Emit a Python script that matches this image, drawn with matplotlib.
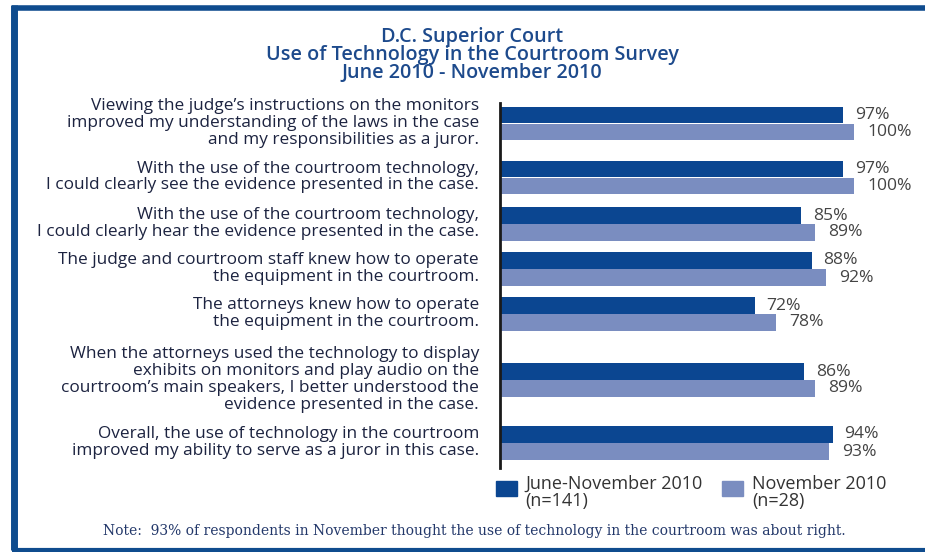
import matplotlib
matplotlib.use('Agg')
import matplotlib.pyplot as plt
from matplotlib.patches import Rectangle

# data
questions = [
    "Viewing the judge\u2019s instructions on the monitors\nimproved my understanding of the laws in the case\nand my responsibilities as a juror.",
    "With the use of the courtroom technology,\nI could clearly see the evidence presented in the case.",
    "With the use of the courtroom technology,\nI could clearly hear the evidence presented in the case.",
    "The judge and courtroom staff knew how to operate\nthe equipment in the courtroom.",
    "The attorneys knew how to operate\nthe equipment in the courtroom.",
    "When the attorneys used the technology to display\nexhibits on monitors and play audio on the\ncourtroom\u2019s main speakers, I better understood the\nevidence presented in the case.",
    "Overall, the use of technology in the courtroom\nimproved my ability to serve as a juror in this case.",
]
june_nov = [97, 97, 85, 88, 72, 86, 94]
nov = [100, 100, 89, 92, 78, 89, 93]
series_names = ["June-November 2010\n(n=141)", "November 2010\n(n=28)"]
title_lines = "D.C. Superior Court\nUse of Technology in the Courtroom Survey\nJune 2010 - November 2010"
note = "Note:  93% of respondents in November thought the use of technology in the courtroom was about right."

# layout (pixel rows of each question group)
group_y = [123.5, 177.5, 224, 269, 314, 380, 443]
bar_h = 16.2
dark = '#0b4691'
light = '#7a8dc0'
frame = '#0f4c8e'
W, H = 925, 552

plt.rcParams['font.family'] = ['Open Sans', 'DejaVu Sans']
fig = plt.figure(figsize=(W / 100, H / 100), dpi=100)

# overlay axes in pixel coordinates for frame and free text
bg = fig.add_axes([0, 0, 1, 1])
bg.set_xlim(0, W)
bg.set_ylim(H, 0)
bg.axis('off')
bg.plot([14, 14], [5, 550], color=frame, lw=5, solid_capstyle='butt')
bg.plot([11.5, W], [7.5, 7.5], color=frame, lw=4, solid_capstyle='butt')
bg.plot([11.5, W], [549.5, 549.5], color=frame, lw=3, solid_capstyle='butt')

bg.text(472, 55, title_lines, ha='center', va='center', fontsize=14.2,
        color='#1d4a8c', linespacing=0.86, fontweight='semibold')

# bar axes: x=0 at pixel 500, 100% at pixel 854
left_px, right_px, top_px, bot_px = 500, W, 100, 470
ax = fig.add_axes([left_px / W, 1 - bot_px / H, (right_px - left_px) / W, (bot_px - top_px) / H])
ax.set_xlim(0, (right_px - left_px) / 3.54)
ax.set_ylim(bot_px, top_px)
ax.patch.set_alpha(0)
for s in ['top', 'right', 'bottom', 'left']:
    ax.spines[s].set_visible(False)
ax.set_xticks([])
ax.set_yticks([])

yd = [g - bar_h / 2 - 0.4 for g in group_y]
yl = [g + bar_h / 2 + 0.4 for g in group_y]
ax.barh(yd, june_nov, height=bar_h, color=dark)
ax.barh(yl, nov, height=bar_h, color=light)
for y, v in zip(yd, june_nov):
    ax.annotate('%d%%' % v, (v, y), xytext=(8.5, 0), textcoords='offset points',
                va='center', ha='left', fontsize=12.6, color='#444444')
for y, v in zip(yl, nov):
    ax.annotate('%d%%' % v, (v, y), xytext=(9.5, 0), textcoords='offset points',
                va='center', ha='left', fontsize=12.6, color='#444444')
ax.plot([0, 0], [103, 468], color='#1a1a1a', lw=2, clip_on=False)

for g, q in zip(group_y, questions):
    bg.text(479, g - 0.5, q, ha='right', va='center', fontsize=12.4, color='#1c2340',
            linespacing=1.06)

# legend
bg.add_patch(Rectangle((496, 481), 21, 15, color=dark))
bg.add_patch(Rectangle((722, 481), 21, 15, color=light))
bg.text(525, 475, series_names[0], ha='left', va='top', fontsize=13, color='#333333', linespacing=0.92)
bg.text(752, 475, series_names[1], ha='left', va='top', fontsize=13, color='#333333', linespacing=0.92)

bg.text(474, 531, note, ha='center', va='center', fontsize=10, color='#23386a',
        family=['DejaVu Serif'])

fig.savefig('out.png', dpi=100)
